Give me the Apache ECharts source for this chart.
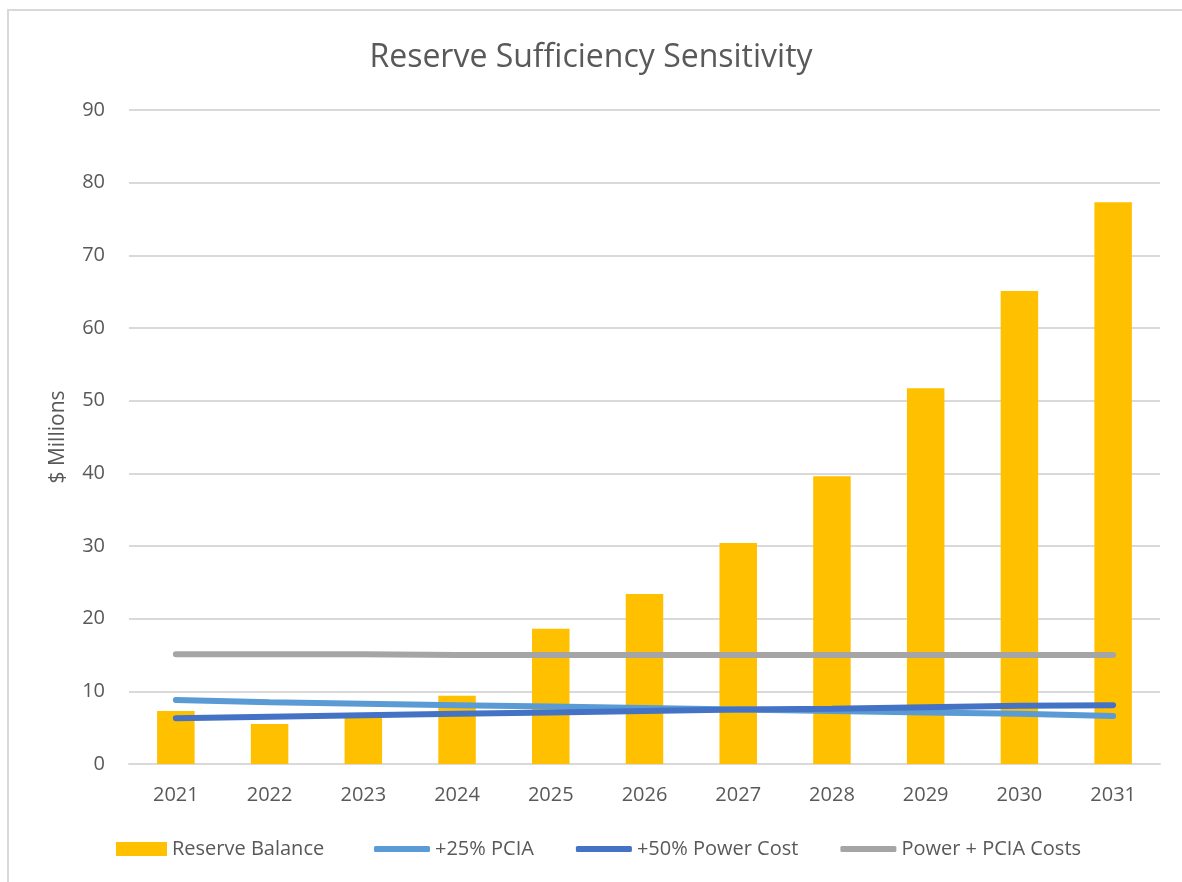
<!DOCTYPE html>
<html>
<head>
<meta charset="utf-8">
<script src="https://cdn.jsdelivr.net/npm/echarts@6/dist/echarts.min.js"></script>
<style>
  html, body { margin: 0; padding: 0; background: #fff; }
  #frame { position: absolute; left: 7px; top: 9px; width: 1175px; height: 873px;
    border-top: 2px solid #d9d9d9; border-left: 2px solid #d9d9d9; box-sizing: border-box; }
  #main { position: absolute; left: 0; top: 0; width: 1182px; height: 882px; }
</style>
</head>
<body>
<div id="frame"></div>
<div id="main"></div>
<script>
// data
var years = ['2021', '2022', '2023', '2024', '2025', '2026', '2027', '2028', '2029', '2030', '2031'];
var reserveBalance = [7.3, 5.5, 6.5, 9.4, 18.6, 23.4, 30.4, 39.6, 51.7, 65.1, 77.3];
var pcia25 = [8.8, 8.5, 8.3, 8.1, 7.9, 7.7, 7.5, 7.3, 7.1, 6.9, 6.6];
var power50 = [6.3, 6.5, 6.7, 6.9, 7.1, 7.3, 7.5, 7.6, 7.8, 8.0, 8.1];
var powerPcia = [15.1, 15.1, 15.1, 15.0, 15.0, 15.0, 15.0, 15.0, 15.0, 15.0, 15.0];

var font = '"Open Sans", sans-serif';
var textColor = '#595959';

var chart = echarts.init(document.getElementById('main'));

function lineSeries(name, data, color) {
  return {
    name: name,
    type: 'line',
    data: data,
    symbol: 'none',
    lineStyle: { color: color, width: 6, cap: 'round' },
    itemStyle: { color: color },
    z: 3
  };
}

var legendText = { fontFamily: font, fontSize: 20, color: textColor };

var option = {
  animation: false,
  textStyle: { fontFamily: font },
  title: {
    text: 'Reserve Sufficiency Sensitivity',
    left: 'center',
    top: 37,
    textStyle: { fontFamily: font, fontSize: 32, fontWeight: 'normal', color: textColor }
  },
  legend: [
    {
      top: 839,
      left: 116,
      padding: 0,
      itemWidth: 51,
      itemHeight: 14,
      textStyle: legendText,
      data: [{ name: 'Reserve Balance', icon: 'rect' }]
    },
    {
      top: 839,
      left: 374,
      padding: 0,
      itemGap: 42,
      itemWidth: 56,
      itemHeight: 6,
      icon: 'roundRect',
      textStyle: legendText,
      data: ['+25% PCIA', '+50% Power Cost', 'Power + PCIA Costs']
    }
  ],
  grid: { left: 129, right: 22, top: 110, bottom: 118 },
  xAxis: {
    type: 'category',
    data: years,
    axisLine: { show: true, lineStyle: { color: '#d9d9d9', width: 2 } },
    axisTick: { show: false },
    axisLabel: { fontFamily: font, fontSize: 20, color: textColor, margin: 21 }
  },
  yAxis: {
    type: 'value',
    min: 0,
    max: 90,
    interval: 10,
    name: '$ Millions',
    nameLocation: 'middle',
    nameGap: 60,
    nameTextStyle: { fontFamily: font, fontSize: 21, color: textColor },
    axisLine: { show: false },
    axisTick: { show: false },
    axisLabel: { fontFamily: font, fontSize: 20, color: textColor, margin: 24 },
    splitLine: { lineStyle: { color: '#d9d9d9', width: 2 } }
  },
  series: [
    {
      name: 'Reserve Balance',
      type: 'bar',
      data: reserveBalance,
      barWidth: '40%',
      itemStyle: { color: '#ffc000' },
      z: 2
    },
    lineSeries('+25% PCIA', pcia25, '#5b9bd5'),
    lineSeries('+50% Power Cost', power50, '#4472c4'),
    lineSeries('Power + PCIA Costs', powerPcia, '#a5a5a5')
  ]
};

chart.setOption(option);
</script>
</body>
</html>
